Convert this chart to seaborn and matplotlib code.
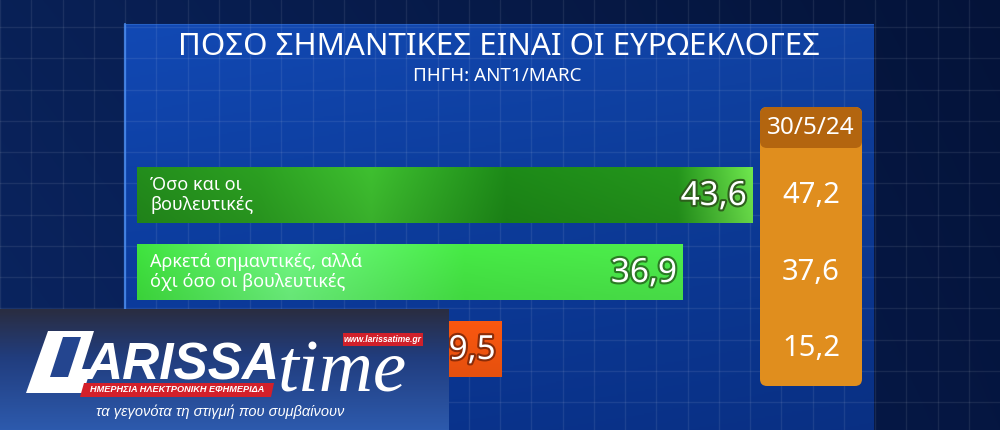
import numpy as np
import pandas as pd
import matplotlib
matplotlib.use("Agg")
import matplotlib.pyplot as plt
import matplotlib.patheffects as pe
from matplotlib.patches import FancyBboxPatch, Rectangle, Polygon
from matplotlib.colors import to_rgb, LinearSegmentedColormap
import seaborn as sns

# ---------------- data ----------------
title = "ΠΟΣΟ ΣΗΜΑΝΤΙΚΕΣ ΕΙΝΑΙ ΟΙ ΕΥΡΩΕΚΛΟΓΕΣ"
subtitle = "ΠΗΓΗ: ANT1/MARC"
categories = ["Όσο και οι\nβουλευτικές",
              "Αρκετά σημαντικές, αλλά\nόχι όσο οι βουλευτικές",
              ""]          # third label is hidden behind the logo in the source
current_values = [43.6, 36.9, 19.5]
previous_label = "30/5/24"
previous_values = [47.2, 37.6, 15.2]
bar_colors = ["#25931c", "#42df3f", "#f0510d"]

logo_main = "ARISSA"
logo_time = "time"
logo_url = "www.larissatime.gr"
logo_band = "ΗΜΕΡΗΣΙΑ ΗΛΕΚΤΡΟΝΙΚΗ ΕΦΗΜΕΡΙΔΑ"
logo_slogan = "τα γεγονότα τη στιγμή που συμβαίνουν"

def fmt(v):
    return f"{v:.1f}".replace(".", ",")

sns.set_theme(style="white")
plt.rcParams["font.family"] = ["Noto Sans", "DejaVu Sans"]

W, H = 1000, 430
fig = plt.figure(figsize=(10, 4.3), dpi=100)

# ---------------- background ----------------
bg = fig.add_axes([0, 0, 1, 1], zorder=0)
bg.set_xlim(0, W)
bg.set_ylim(H, 0)
bg.axis("off")

yy, xx = np.mgrid[0:H, 0:W]
tx = (xx / W)[..., None]
ty = (yy / H)[..., None]
outer = (np.array(to_rgb("#0a2562")) * (1 - tx) + np.array(to_rgb("#051641")) * tx)
outer = outer * (0.88 + 0.12 * ty)
pc = LinearSegmentedColormap.from_list("p", [(0, "#1249b4"), (0.35, "#0e41a6"), (1, "#0a3592")])
pv = pc(np.clip((yy - 24) / (H - 24), 0, 1))[..., :3]
pv = pv * (1 - 0.10 * np.clip((xx - 125) / 748, 0, 1))[..., None]
mask = ((xx >= 125) & (xx <= 873) & (yy >= 24))[..., None]
img = np.where(mask, pv, outer)
bg.imshow(img, extent=(0, W, H, 0), aspect="auto", zorder=0, interpolation="bilinear")

for gx in np.arange(125 % 31.25, W, 31.25):
    bg.axvline(gx, color="white", alpha=0.08, lw=1, zorder=1)
for gy in np.arange(27 % 31.25, H, 31.25):
    bg.axhline(gy, color="white", alpha=0.08, lw=1, zorder=1)
bg.plot([125, 125], [24, 310], color="#4a8cf0", lw=1.6, alpha=0.85, zorder=2)
bg.plot([125, 873], [24, 24], color="#3a78d8", lw=0.8, alpha=0.5, zorder=2)

bg.text(499, 47, title, ha="center", va="center", fontsize=22.5, color="white", zorder=3)
bg.text(497, 76, subtitle, ha="center", va="center", fontsize=13.5, color="white", zorder=3)

# previous-poll column
bg.add_patch(FancyBboxPatch((760, 107), 102, 279, boxstyle="round,pad=0,rounding_size=7",
                            fc="#e08e1e", ec="none", zorder=3))
bg.add_patch(FancyBboxPatch((760, 107), 102, 41, boxstyle="round,pad=0,rounding_size=7",
                            fc="#b3650f", ec="none", zorder=4))
bg.text(811, 128, previous_label, ha="center", va="center", fontsize=17.5, fontweight="bold",
        color="white", zorder=5)

# ---------------- bars ----------------
PX = 10.43      # pixels per unit
ZERO = 298      # pixel of value 0
x0, x1 = -ZERO / PX, (W - ZERO) / PX
base = (137 - ZERO) / PX

ax = fig.add_axes([0, 1 - 387.5 / H, 1, 231 / H], zorder=2)
ax.patch.set_alpha(0)
df = pd.DataFrame({"category": categories, "value": current_values})
sns.barplot(data=df, x="value", y="category", hue="category", palette=bar_colors,
            legend=False, orient="h", width=0.74, saturation=1, linewidth=0, ax=ax)

grad_stops = [
    [(0, "#22881b"), (0.2, "#2a9a20"), (0.38, "#3cb82e"), (0.6, "#1c8517"),
     (0.88, "#23901b"), (1, "#6ade4a")],
    [(0, "#3ddb3c"), (0.28, "#6cf07c"), (0.6, "#44e243"), (1, "#4be44a")],
    [(0, "#f0500c"), (1, "#f0540f")],
]
patches = list(ax.patches)
for i, p in enumerate(patches):
    v = p.get_width()
    p.set_x(base)
    p.set_width(v - base)
    cm = LinearSegmentedColormap.from_list(f"b{i}", grad_stops[i])
    g = cm(np.linspace(0, 1, 256))[None, :, :3]
    g = np.repeat(g, 8, axis=0)
    shade = np.linspace(1.04, 0.96, 8)[:, None, None]
    g = np.clip(g * shade, 0, 1)
    im = ax.imshow(g, extent=(p.get_x(), p.get_x() + p.get_width(),
                              p.get_y() + p.get_height(), p.get_y()),
                   aspect="auto", zorder=p.get_zorder() + 0.1, interpolation="bilinear")
    im.set_clip_path(p)
    if categories[i]:
        ax.text(base + 13 / PX, i, categories[i], ha="left", va="center", fontsize=13,
                color="white", linespacing=1.15, zorder=5)
    outline = ["#2d5e1c", "#2b7a24", "#8a2c08"][i]
    ax.text(v - 6 / PX, i + 0.02, fmt(v), ha="right", va="center", fontsize=24,
            fontweight="bold", color="white", zorder=5,
            path_effects=[pe.withStroke(linewidth=3, foreground=outline)])
    ax.text((811 - ZERO) / PX, i, fmt(previous_values[i]), ha="center", va="center",
            fontsize=21, fontweight="bold", color="white", zorder=5)

ax.set_xlim(x0, x1)
ax.set_ylim(2.5, -0.5)
ax.axis("off")

# ---------------- logo overlay ----------------
lg = fig.add_axes([0, 0, 1, 1], zorder=10)
lg.set_xlim(0, W)
lg.set_ylim(H, 0)
lg.axis("off")
lc = LinearSegmentedColormap.from_list("l", [(0, "#2a2d41"), (0.4, "#213d7e"), (1, "#2d5aad")])
lgrad = lc(np.linspace(0, 1, 121))[:, None, :3]
lg.imshow(np.repeat(lgrad, 4, axis=1), extent=(0, 449, 430, 309), aspect="auto", zorder=1)
lg.set_xlim(0, W)
lg.set_ylim(H, 0)

# outlined italic "L"
lg.add_patch(Polygon([(48, 331), (94, 331), (82, 369), (91, 369), (83, 393), (26, 393)],
                     closed=True, fc="white", ec="none", zorder=2))
lg.add_patch(Polygon([(63, 337), (81, 337), (68, 377), (50, 377)],
                     closed=True, fc="#24458f", ec="none", zorder=2))
lg.text(85, 379, logo_main, ha="left", va="baseline", fontsize=37, fontweight="bold",
        style="italic", color="white", family=["Liberation Sans", "DejaVu Sans"], zorder=3)
lg.text(278, 392, logo_time, ha="left", va="baseline", fontsize=54, style="italic",
        color="white", family=["Liberation Serif", "DejaVu Serif"], zorder=3)
lg.add_patch(Rectangle((343, 333), 80, 13, fc="#d0202a", ec="none", zorder=2))
lg.text(383, 339.5, logo_url, ha="center", va="center", fontsize=6.2, fontweight="bold",
        style="italic", color="white", family=["Liberation Sans", "DejaVu Sans"], zorder=3)
lg.add_patch(Polygon([(84, 383), (274, 383), (271, 397), (80, 397)], closed=True,
                     fc="#d3202a", ec="none", zorder=2))
lg.text(177, 390, logo_band, ha="center", va="center", fontsize=6.6, fontweight="bold",
        style="italic", color="white", family=["Liberation Sans", "DejaVu Sans"], zorder=3)
lg.text(220, 412, logo_slogan, ha="center", va="center", fontsize=10.5, style="italic",
        color="white", family=["Liberation Sans", "DejaVu Sans"], zorder=3)

fig.savefig("out.png", dpi=100)
